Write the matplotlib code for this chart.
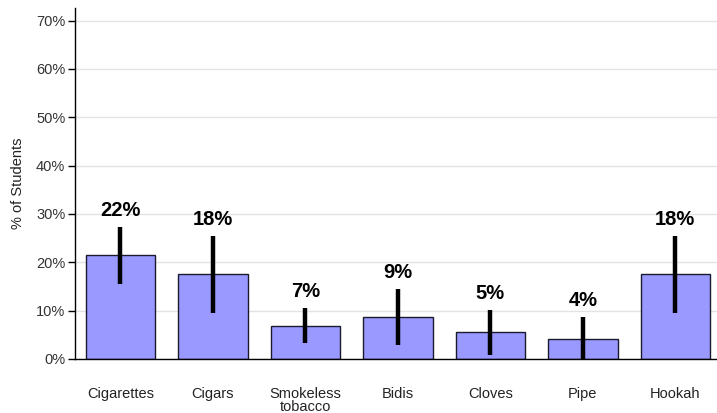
import matplotlib
matplotlib.use('Agg')
import matplotlib.pyplot as plt
from matplotlib.ticker import FuncFormatter

categories = ['Cigarettes', 'Cigars', 'Smokeless\ntobacco', 'Bidis', 'Cloves', 'Pipe', 'Hookah']
values = [21.5, 17.5, 6.9, 8.7, 5.6, 4.2, 17.5]
err_low = [15.6, 9.6, 3.3, 2.9, 0.8, 0.0, 9.6]
err_high = [27.4, 25.4, 10.6, 14.5, 10.2, 8.7, 25.4]
labels = ['22%', '18%', '7%', '9%', '5%', '4%', '18%']

plt.rcParams['font.family'] = ['Liberation Sans', 'DejaVu Sans']

fig = plt.figure(figsize=(7.17, 4.13), dpi=100)
ax = fig.add_axes([0.1046, 0.1308, 0.8954, 0.8498])

x = range(len(categories))
ax.bar(x, values, width=0.75, color='#9999ff', edgecolor='#1a1a2e', linewidth=1, zorder=2)
ax.vlines(x, err_low, err_high, color='black', linewidth=3.2, zorder=3)

for xi, top, lab in zip(x, err_high, labels):
    ax.annotate(lab, (xi, top), xytext=(0, 5), textcoords='offset points',
                ha='center', va='bottom', fontsize=14.5, fontweight='bold')

ax.set_xlim(-0.49, 6.45)
ax.set_ylim(0, 72.6)
ax.set_yticks(range(0, 71, 10))
ax.yaxis.set_major_formatter(FuncFormatter(lambda v, p: '%d%%' % v))
ax.set_xticks(list(x))
ax.set_xticklabels(categories, fontsize=10.5, color='#222222', linespacing=0.95)
ax.tick_params(axis='x', length=0, pad=20)
ax.tick_params(axis='y', length=5, width=1, labelsize=10.5, labelcolor='#333333', pad=2)
ax.grid(axis='y', color='#e3e3e3', linewidth=1, zorder=0)
ax.set_axisbelow(True)
ax.spines['top'].set_visible(False)
ax.spines['right'].set_visible(False)
ax.spines['left'].set_linewidth(1)
ax.spines['bottom'].set_linewidth(1)
ax.set_ylabel('% of Students', fontsize=10.5, color='#222222', labelpad=8)

fig.savefig('out.png', dpi=100)
